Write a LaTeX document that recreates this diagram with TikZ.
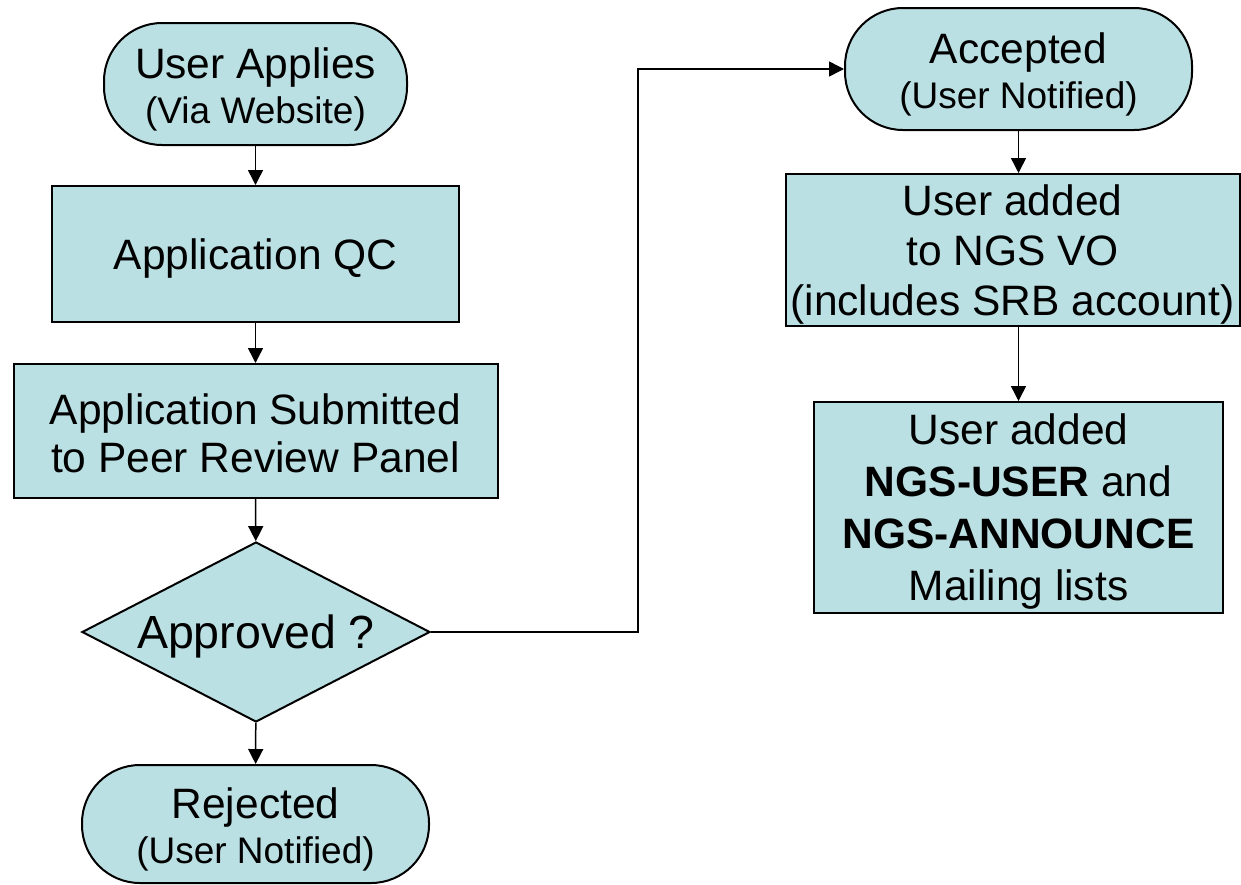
\documentclass[tikz,border=0pt]{standalone}
\usepackage{fontspec}
\setmainfont{Liberation Sans}
\usetikzlibrary{arrows.meta,shapes.geometric}
\definecolor{boxfill}{RGB}{187,224,227}
\tikzset{
  box/.style={draw=black, line width=2pt, fill=boxfill, inner sep=0pt, align=center,
    font=\fontsize{42.5}{50}\selectfont},
  term/.style={box, rounded corners=58pt, font=\fontsize{42.5}{45}\selectfont},
  decide/.style={box, diamond, aspect=1.93, font=\fontsize{46.5}{50}\selectfont},
  flow/.style={draw=black, line width=1.5pt, -{Triangle[length=15pt,width=15pt]}}
}
\newcommand{\sm}[1]{{\fontsize{37}{45}\selectfont #1}}
\newcommand{\dn}[1]{\rule{0pt}{#1}}
\begin{document}
\begin{tikzpicture}[x=1pt,y=-1pt]
\useasboundingbox (0,0) rectangle (1241,884);
\node[term, minimum width=303pt, minimum height=122pt] (ua) at (255.5,84) {\dn{41pt}User Applies\\\sm{(Via Website)}};
\node[box, minimum width=407pt, minimum height=136pt] (qc) at (255.5,254) {\dn{39pt}Application QC};
\node[box, minimum width=484pt, minimum height=134pt, font=\fontsize{42.5}{48}\selectfont] (sub) at (255.5,431) {\dn{35pt}Application Submitted\\to Peer Review Panel};
\node[decide, minimum width=348pt, minimum height=180pt] (appr) at (256,632) {\dn{42pt}Approved ?};
\node[term, minimum width=347pt, minimum height=118pt] (rej) at (255.5,824) {\dn{41pt}Rejected\\\sm{(User Notified)}};
\node[term, minimum width=347pt, minimum height=122pt] (acc) at (1018.5,69) {\dn{41pt}Accepted\\\sm{(User Notified)}};
\node[box, minimum width=454pt, minimum height=152pt] (vo) at (1012.5,250) {\dn{40pt}User added\\to NGS VO\\(includes SRB account)};
\node[box, minimum width=409pt, minimum height=211pt, font=\fontsize{42.5}{52}\selectfont] (ml) at (1018.5,507.5) {\dn{38pt}User added\\\textbf{NGS-USER} and\\\textbf{NGS-ANNOUNCE}\\Mailing lists};
\draw[flow] (ua) -- (qc);
\draw[flow] (qc) -- (sub);
\draw[flow] (sub) -- (appr);
\draw[flow] (appr) -- (rej);
\draw[flow] (appr.east) -- ++(207,0) |- (acc.west);
\draw[flow] (acc.south) -- (acc.south |- vo.north);
\draw[flow] (ml.north |- vo.south) -- (ml.north);
\end{tikzpicture}
\end{document}
